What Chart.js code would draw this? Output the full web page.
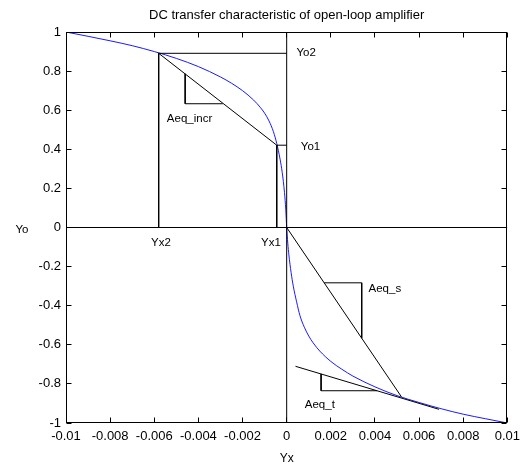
<!DOCTYPE html>
<html>
<head>
<meta charset="utf-8">
<script src="https://cdn.jsdelivr.net/npm/chart.js@4/dist/chart.umd.min.js"></script>
<style>
  html, body { margin: 0; padding: 0; background: #fff; }
  #wrap { width: 526px; height: 466px; }
</style>
</head>
<body>
<div id="wrap"><canvas id="chart" width="526" height="466"></canvas></div>
<script>
// transfer curve
const curveX = [-0.01, -0.009, -0.008, -0.007, -0.006, -0.005, -0.004, -0.003, -0.0025, -0.002, -0.0015, -0.0012, -0.001,
  -0.0008, -0.0006, -0.00045, -0.0003, -0.0002, -0.0001, -0.00004, 0,
  0.00005, 0.0001, 0.0002, 0.0003, 0.00045, 0.0006, 0.0008, 0.001, 0.0012, 0.0015, 0.002, 0.0025, 0.003,
  0.004, 0.005, 0.006, 0.007, 0.008, 0.009, 0.01];
const curveY = [1.0, 0.978, 0.955, 0.93, 0.9, 0.865, 0.823, 0.77, 0.738, 0.70, 0.652, 0.615, 0.585,
  0.545, 0.49, 0.43, 0.35, 0.28, 0.18, 0.09, 0,
  -0.08, -0.14, -0.23, -0.30, -0.38, -0.45, -0.51, -0.555, -0.59, -0.632, -0.685, -0.725, -0.76,
  -0.815, -0.86, -0.895, -0.927, -0.955, -0.978, -1.0];

// construction lines (x, y pairs)
const zeroV = [[0, -1], [0, 1]];
const zeroH = [[-0.01, 0], [0.01, 0]];
const yo2Line = [[-0.0058, 0.891], [0, 0.891]];
const yx2Line = [[-0.0058, 0.891], [-0.0058, 0]];
const yo1Line = [[-0.00045, 0.421], [0, 0.421]];
const yx1Line = [[-0.00045, 0.421], [-0.00045, 0]];
const incrLine = [[-0.0058, 0.891], [-0.00045, 0.421]];
const incrTri = [[-0.0046, 0.786], [-0.0046, 0.633], [-0.0029, 0.633]];
const sLine = [[0, 0], [0.0052, -0.866]];
const sTri = [[0.0017, -0.283], [0.0034, -0.283], [0.0034, -0.566]];
const tLine = [[0.0004, -0.71], [0.0069, -0.93]];
const tTri = [[0.00156, -0.749], [0.00156, -0.835], [0.0041, -0.835]];

// text labels in data coords
const noteText = ['Yo2', 'Yo1', 'Yx2', 'Yx1', 'Aeq_incr', 'Aeq_s', 'Aeq_t'];
const noteX = [0.00044, 0.00064, -0.0057, -0.00071, -0.00543, 0.00371, 0.00082];
const noteY = [0.891, 0.413, -0.077, -0.08, 0.555, -0.315, -0.905];
const noteAlign = ['left', 'left', 'center', 'center', 'left', 'left', 'left'];

const xTicks = [-0.01, -0.008, -0.006, -0.004, -0.002, 0, 0.002, 0.004, 0.006, 0.008, 0.01];
const xTickLabels = ['-0.01', '-0.008', '-0.006', '-0.004', '-0.002', '0', '0.002', '0.004', '0.006', '0.008', '0.01'];
const yTicks = [-1, -0.8, -0.6, -0.4, -0.2, 0, 0.2, 0.4, 0.6, 0.8, 1];
const yTickLabels = ['-1', '-0.8', '-0.6', '-0.4', '-0.2', '0', '0.2', '0.4', '0.6', '0.8', '1'];

const FONT = "'Liberation Sans', Arial, sans-serif";
Chart.defaults.font.family = FONT;
Chart.defaults.font.size = 13;
Chart.defaults.color = '#000';

function pts(arr) {
  return arr.map(p => ({ x: p[0], y: p[1] }));
}

const blackLines = [zeroV, zeroH, yo2Line, yx2Line, yo1Line, yx1Line, incrLine, incrTri, sLine, sTri, tLine, tTri];

const datasets = blackLines.map(l => ({
  data: pts(l),
  borderColor: '#000',
  borderWidth: 1,
  pointRadius: 0,
  showLine: true,
  fill: false,
  order: 0
}));
datasets.push({
  data: curveX.map((x, i) => ({ x: x, y: curveY[i] })),
  borderColor: '#1a1aff',
  borderWidth: 1,
  pointRadius: 0,
  showLine: true,
  fill: false,
  cubicInterpolationMode: 'monotone',
  order: 1
});

// box, inward ticks, notes and the Yo label
const frame = {
  id: 'frame',
  afterDatasetsDraw(chart) {
    const ctx = chart.ctx;
    const a = chart.chartArea;
    const xs = chart.scales.x, ys = chart.scales.y;
    ctx.save();
    ctx.strokeStyle = '#000';
    ctx.lineWidth = 1;
    const L = Math.round(a.left) + 0.5, R = Math.round(a.right) - 0.5;
    const T = Math.round(a.top) + 0.5, B = Math.round(a.bottom) - 0.5;
    ctx.strokeRect(L, T, R - L, B - T);
    ctx.beginPath();
    xTicks.forEach(v => {
      const px = Math.floor(xs.getPixelForValue(v)) + 0.5;
      ctx.moveTo(px, B); ctx.lineTo(px, B - 5);
      ctx.moveTo(px, T); ctx.lineTo(px, T + 5);
    });
    yTicks.forEach(v => {
      const py = Math.floor(ys.getPixelForValue(v)) + 0.5;
      ctx.moveTo(L, py); ctx.lineTo(L + 5, py);
      ctx.moveTo(R, py); ctx.lineTo(R - 5, py);
    });
    ctx.stroke();

    ctx.fillStyle = '#000';
    ctx.font = '11.5px ' + FONT;
    ctx.textBaseline = 'middle';
    noteText.forEach((t, i) => {
      ctx.textAlign = noteAlign[i];
      ctx.fillText(t, xs.getPixelForValue(noteX[i]), ys.getPixelForValue(noteY[i]));
    });
    ctx.textAlign = 'center';
    ctx.fillText('Yo', 22, ys.getPixelForValue(0) + 2);
    ctx.restore();
  }
};

new Chart(document.getElementById('chart'), {
  type: 'scatter',
  data: { datasets: datasets },
  options: {
    responsive: false,
    animation: false,
    layout: { padding: { left: 0, right: 15, top: 0, bottom: 0 } },
    plugins: {
      legend: { display: false },
      tooltip: { enabled: false },
      title: {
        display: true,
        fullSize: false,
        text: 'DC transfer characteristic of open-loop amplifier',
        font: { size: 13, weight: 'normal' },
        padding: { top: 7.2, bottom: 9.2 }
      }
    },
    scales: {
      x: {
        type: 'linear',
        min: -0.01,
        max: 0.01,
        afterBuildTicks: s => { s.ticks = xTicks.map(v => ({ value: v })); },
        afterFit: s => { s.height = 43; },
        ticks: {
          padding: 6,
          maxRotation: 0,
          callback: (v, i) => xTickLabels[i]
        },
        grid: { display: false, drawTicks: false },
        border: { display: false },
        title: { display: true, text: 'Yx', font: { size: 12 }, padding: { top: 0, bottom: 0 } }
      },
      y: {
        type: 'linear',
        min: -1,
        max: 1,
        afterBuildTicks: s => { s.ticks = yTicks.map(v => ({ value: v })); },
        afterFit: s => { s.width = 66; },
        ticks: {
          padding: 5,
          callback: (v, i) => yTickLabels[i]
        },
        grid: { display: false, drawTicks: false },
        border: { display: false }
      }
    }
  },
  plugins: [frame]
});
</script>
</body>
</html>
